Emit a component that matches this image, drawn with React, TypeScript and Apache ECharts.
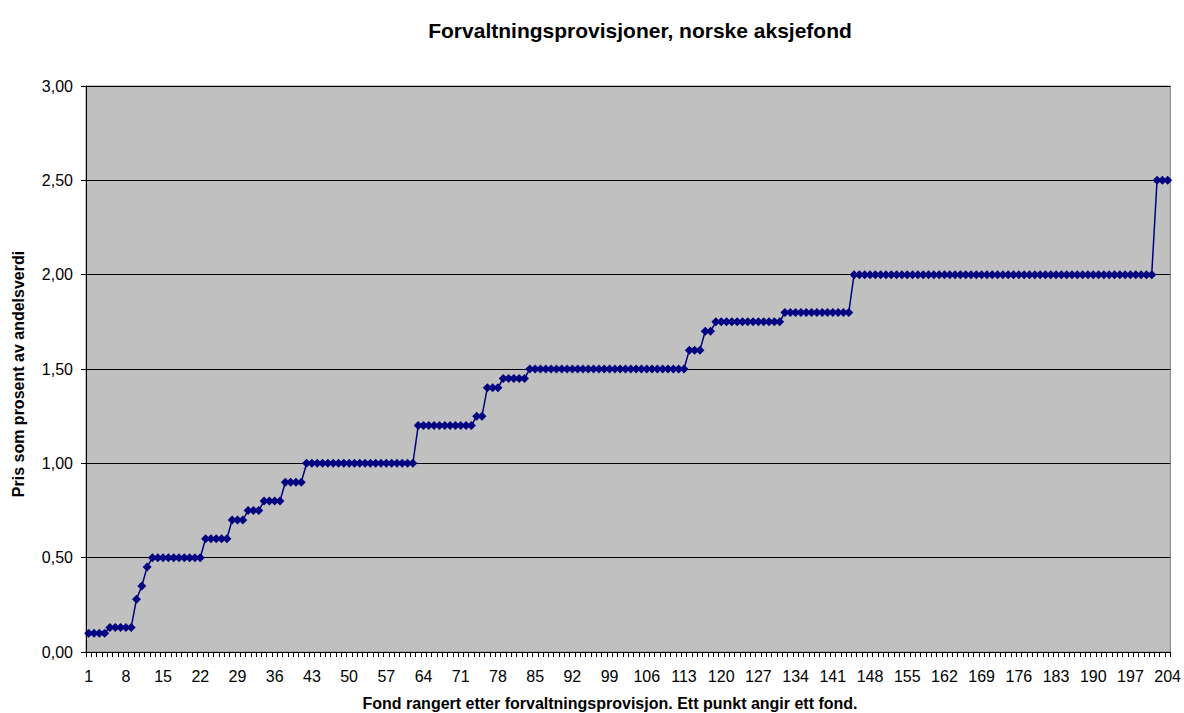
import React, { useEffect, useRef } from "react";
import * as echarts from "echarts";

const titleText = "Forvaltningsprovisjoner, norske aksjefond";
const yAxisTitle = "Pris som prosent av andelsverdi";
const xAxisTitle = "Fond rangert etter forvaltningsprovisjon. Ett punkt angir ett fond.";

const fees: number[] = [
  0.1, 0.1, 0.1, 0.1,
  0.13, 0.13, 0.13, 0.13, 0.13,
  0.28, 0.35, 0.45,
  0.5, 0.5, 0.5, 0.5, 0.5, 0.5, 0.5, 0.5, 0.5, 0.5,
  0.6, 0.6, 0.6, 0.6, 0.6,
  0.7, 0.7, 0.7,
  0.75, 0.75, 0.75,
  0.8, 0.8, 0.8, 0.8,
  0.9, 0.9, 0.9, 0.9,
  1.0, 1.0, 1.0, 1.0, 1.0, 1.0, 1.0, 1.0, 1.0, 1.0, 1.0, 1.0, 1.0, 1.0, 1.0, 1.0, 1.0, 1.0, 1.0, 1.0, 1.0,
  1.2, 1.2, 1.2, 1.2, 1.2, 1.2, 1.2, 1.2, 1.2, 1.2, 1.2,
  1.25, 1.25,
  1.4, 1.4, 1.4,
  1.45, 1.45, 1.45, 1.45, 1.45,
  1.5, 1.5, 1.5, 1.5, 1.5, 1.5, 1.5, 1.5, 1.5, 1.5,
  1.5, 1.5, 1.5, 1.5, 1.5, 1.5, 1.5, 1.5, 1.5, 1.5,
  1.5, 1.5, 1.5, 1.5, 1.5, 1.5, 1.5, 1.5, 1.5, 1.5,
  1.6, 1.6, 1.6,
  1.7, 1.7,
  1.75, 1.75, 1.75, 1.75, 1.75, 1.75, 1.75, 1.75, 1.75, 1.75, 1.75, 1.75, 1.75,
  1.8, 1.8, 1.8, 1.8, 1.8, 1.8, 1.8, 1.8, 1.8, 1.8, 1.8, 1.8, 1.8,
  2.0, 2.0, 2.0, 2.0, 2.0, 2.0, 2.0, 2.0, 2.0, 2.0,
  2.0, 2.0, 2.0, 2.0, 2.0, 2.0, 2.0, 2.0, 2.0, 2.0,
  2.0, 2.0, 2.0, 2.0, 2.0, 2.0, 2.0, 2.0, 2.0, 2.0,
  2.0, 2.0, 2.0, 2.0, 2.0, 2.0, 2.0, 2.0, 2.0, 2.0,
  2.0, 2.0, 2.0, 2.0, 2.0, 2.0, 2.0, 2.0, 2.0, 2.0,
  2.0, 2.0, 2.0, 2.0, 2.0, 2.0, 2.0,
  2.5, 2.5, 2.5,
];

const categories: string[] = fees.map((_, i) => String(i + 1));

export default function App() {
  const ref = useRef<HTMLDivElement>(null);
  useEffect(() => {
    if (!ref.current) return;
    const chart = echarts.init(ref.current, undefined, { renderer: "svg" });
    const font = "Arial, 'Liberation Sans', sans-serif";
    chart.setOption({
      animation: false,
      backgroundColor: "#ffffff",
      textStyle: { fontFamily: font },
      grid: {
        left: 86,
        right: 6,
        top: 86,
        bottom: 61,
        show: true,
        backgroundColor: "#C0C0C0",
        borderColor: "#808080",
        borderWidth: 1,
      },
      graphic: [
        {
          type: "text",
          x: 640,
          y: 30,
          style: {
            text: titleText,
            fontFamily: font,
            fontWeight: "bold",
            fontSize: 21,
            fill: "#000",
            textAlign: "center",
            textVerticalAlign: "middle",
          },
        },
        {
          type: "text",
          x: 610,
          y: 703,
          style: {
            text: xAxisTitle,
            fontFamily: font,
            fontWeight: "bold",
            fontSize: 16,
            fill: "#000",
            textAlign: "center",
            textVerticalAlign: "middle",
          },
        },
        {
          type: "text",
          x: 18,
          y: 374,
          rotation: Math.PI / 2,
          style: {
            text: yAxisTitle,
            fontFamily: font,
            fontWeight: "bold",
            fontSize: 16,
            fill: "#000",
            textAlign: "center",
            textVerticalAlign: "middle",
          },
        },
      ],
      xAxis: {
        type: "category",
        data: categories,
        boundaryGap: true,
        axisLine: { show: true, lineStyle: { color: "#000", width: 1 } },
        axisTick: { show: true, interval: 0, length: 5, lineStyle: { color: "#000" } },
        axisLabel: {
          interval: 6,
          margin: 16,
          fontSize: 16,
          color: "#000",
          fontFamily: font,
        },
        splitLine: { show: false },
      },
      yAxis: {
        type: "value",
        min: 0,
        max: 3,
        interval: 0.5,
        axisLine: { show: true, lineStyle: { color: "#000", width: 1 } },
        axisTick: { show: true, length: 5, lineStyle: { color: "#000" } },
        axisLabel: {
          fontSize: 16,
          color: "#000",
          margin: 13,
          fontFamily: font,
          formatter: (v: number) => v.toFixed(2).replace(".", ","),
        },
        splitLine: { show: true, lineStyle: { color: "#000", width: 1 } },
      },
      series: [
        {
          type: "line",
          data: fees,
          symbol: "diamond",
          symbolSize: 9,
          showAllSymbol: true,
          itemStyle: { color: "#000080" },
          lineStyle: { color: "#000080", width: 1.5 },
        },
      ],
    });
    return () => chart.dispose();
  }, []);
  return (
    <div
      ref={ref}
      style={{ position: "fixed", left: 0, top: 0, width: 1184, height: 713 }}
    />
  );
}
